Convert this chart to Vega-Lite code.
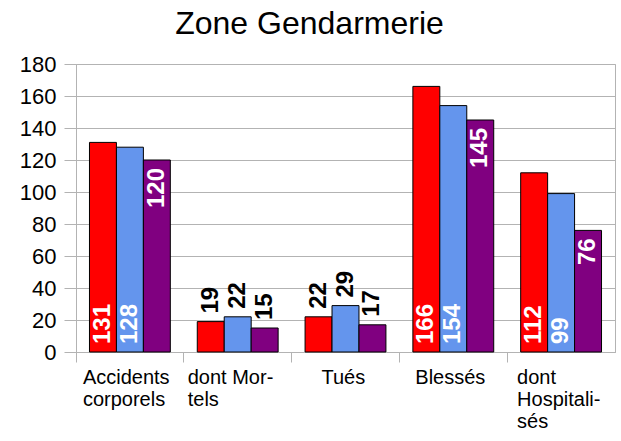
{
  "$schema": "https://vega.github.io/schema/vega-lite/v6.json",
  "width": 539,
  "height": 288,
  "autosize": {"type": "none"},
  "padding": {"left": 76, "top": 64, "right": 6, "bottom": 89},
  "background": "white",
  "title": {
    "text": "Zone Gendarmerie",
    "font": "Liberation Sans",
    "fontSize": 32,
    "fontWeight": "normal",
    "color": "black",
    "anchor": "middle",
    "frame": "group",
    "dx": -36,
    "dy": 29,
    "baseline": "alphabetic",
    "offset": 16
  },
  "config": {
    "font": "Liberation Sans",
    "view": {"stroke": "#b3b3b3", "strokeWidth": 1},
    "axis": {
      "labelFont": "Liberation Sans",
      "labelColor": "black",
      "domainColor": "#b3b3b3",
      "tickColor": "#b3b3b3",
      "gridColor": "#b3b3b3",
      "title": null
    }
  },
  "data": {
    "values": [
      {"cat": "Accidents corporels", "series": "S1", "value": 131},
      {"cat": "Accidents corporels", "series": "S2", "value": 128},
      {"cat": "Accidents corporels", "series": "S3", "value": 120},
      {"cat": "dont Mortels", "series": "S1", "value": 19},
      {"cat": "dont Mortels", "series": "S2", "value": 22},
      {"cat": "dont Mortels", "series": "S3", "value": 15},
      {"cat": "Tués", "series": "S1", "value": 22},
      {"cat": "Tués", "series": "S2", "value": 29},
      {"cat": "Tués", "series": "S3", "value": 17},
      {"cat": "Blessés", "series": "S1", "value": 166},
      {"cat": "Blessés", "series": "S2", "value": 154},
      {"cat": "Blessés", "series": "S3", "value": 145},
      {"cat": "dont Hospitalisés", "series": "S1", "value": 112},
      {"cat": "dont Hospitalisés", "series": "S2", "value": 99},
      {"cat": "dont Hospitalisés", "series": "S3", "value": 76}
    ]
  },
  "encoding": {
    "x": {
      "field": "cat",
      "type": "nominal",
      "sort": null,
      "scale": {"paddingInner": 0, "paddingOuter": 0},
      "axis": {
        "labelAngle": 0,
        "labelFontSize": 20,
        "labelLineHeight": 22,
        "labelAlign": "left",
        "labelBaseline": "top",
        "labelPadding": 5,
        "labelOverlap": false,
        "tickSize": 10,
        "bandPosition": 0,
        "grid": false,
        "labelOffset": {
          "condition": [
            {"test": "datum.value === 'Accidents corporels'", "value": -47},
            {"test": "datum.value === 'dont Mortels'", "value": -50},
            {"test": "datum.value === 'Tués'", "value": -24},
            {"test": "datum.value === 'Blessés'", "value": -38}
          ],
          "value": -44
        },
        "labelExpr": "datum.value === 'Accidents corporels' ? ['Accidents', 'corporels'] : datum.value === 'dont Mortels' ? ['dont Mor-', 'tels'] : datum.value === 'dont Hospitalisés' ? ['dont', 'Hospitali-', 'sés'] : datum.value"
      }
    },
    "xOffset": {
      "field": "series",
      "type": "nominal",
      "scale": {"paddingInner": 0, "paddingOuter": 0.5}
    }
  },
  "layer": [
    {
      "mark": {"type": "bar", "stroke": "black", "strokeWidth": 1},
      "encoding": {
        "y": {
          "field": "value",
          "type": "quantitative",
          "scale": {"domain": [0, 180], "nice": false},
          "axis": {
            "values": [0, 20, 40, 60, 80, 100, 120, 140, 160, 180],
            "labelFontSize": 22,
            "labelOverlap": false,
            "tickSize": 12,
            "labelPadding": 8,
            "grid": true
          }
        },
        "color": {
          "field": "series",
          "type": "nominal",
          "scale": {"domain": ["S1", "S2", "S3"], "range": ["#ff0000", "#6495ed", "#800080"]},
          "legend": null
        }
      }
    },
    {
      "transform": [{"filter": "datum.value >= 50 && datum.series !== 'S3'"}],
      "mark": {"type": "text", "angle": 270, "align": "left", "baseline": "middle", "dx": 8, "fontSize": 24, "fontWeight": "bold", "color": "white"},
      "encoding": {
        "y": {
          "datum": 0,
          "type": "quantitative",
          "scale": {"domain": [0, 180], "nice": false},
          "axis": {
            "values": [0, 20, 40, 60, 80, 100, 120, 140, 160, 180],
            "labelFontSize": 22,
            "labelOverlap": false,
            "tickSize": 12,
            "labelPadding": 8,
            "grid": true
          }
        },
        "text": {"field": "value", "type": "quantitative"}
      }
    },
    {
      "transform": [{"filter": "datum.value >= 50 && datum.series === 'S3'"}],
      "mark": {"type": "text", "angle": 270, "align": "right", "baseline": "middle", "dx": -8, "fontSize": 24, "fontWeight": "bold", "color": "white"},
      "encoding": {
        "y": {
          "field": "value",
          "type": "quantitative",
          "scale": {"domain": [0, 180], "nice": false},
          "axis": {
            "values": [0, 20, 40, 60, 80, 100, 120, 140, 160, 180],
            "labelFontSize": 22,
            "labelOverlap": false,
            "tickSize": 12,
            "labelPadding": 8,
            "grid": true
          }
        },
        "text": {"field": "value", "type": "quantitative"}
      }
    },
    {
      "transform": [{"filter": "datum.value < 50"}],
      "mark": {"type": "text", "angle": 270, "align": "left", "baseline": "middle", "dx": 8, "fontSize": 24, "fontWeight": "bold", "color": "black"},
      "encoding": {
        "y": {
          "field": "value",
          "type": "quantitative",
          "scale": {"domain": [0, 180], "nice": false},
          "axis": {
            "values": [0, 20, 40, 60, 80, 100, 120, 140, 160, 180],
            "labelFontSize": 22,
            "labelOverlap": false,
            "tickSize": 12,
            "labelPadding": 8,
            "grid": true
          }
        },
        "text": {"field": "value", "type": "quantitative"}
      }
    }
  ]
}
